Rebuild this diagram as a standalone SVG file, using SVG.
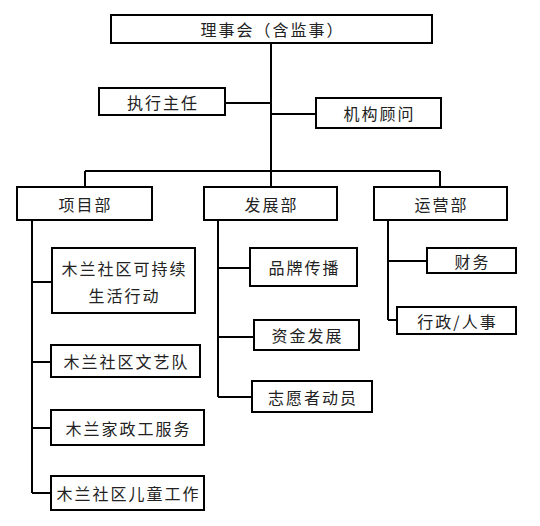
<svg xmlns="http://www.w3.org/2000/svg" width="540" height="526" viewBox="0 0 540 526">
<style>
.box{fill:#fff;stroke:#000;stroke-width:2}
.t{font-family:"Noto Sans CJK SC","Liberation Sans",sans-serif;font-size:16px;fill:#222;text-anchor:middle;letter-spacing:2px;dominant-baseline:central}
.c{fill:none;stroke:#000;stroke-width:2}
</style>
<rect width="540" height="526" fill="#fff"/>
<g id="connectors">
<path class="c" d="M271 43V171M225 103H271M271 114H316M85 171H440M85 171V187M271 171V187M440 171V187"/>
<path class="c" d="M32 220V493M32 282H52M32 362H51M32 428H51M32 493H51"/>
<path class="c" d="M218 220V397M218 268H250M218 337H254M218 397H252"/>
<path class="c" d="M388 220V320M388 261H427M388 320H397"/>
</g>
<g id="board"><rect class="box" x="111" y="15" width="321" height="28"/><text class="t" x="272.5" y="29">理事会（含监事）</text></g>
<g id="director"><rect class="box" x="99" y="88" width="126" height="27"/><text class="t" x="163" y="102">执行主任</text></g>
<g id="advisors"><rect class="box" x="316" y="98" width="125" height="30"/><text class="t" x="379.5" y="113">机构顾问</text></g>
<g id="projects"><rect class="box" x="17" y="187" width="135" height="33"/><text class="t" x="85.5" y="203.5">项目部</text></g>
<g id="development"><rect class="box" x="204" y="187" width="133" height="33"/><text class="t" x="271.5" y="203.5">发展部</text></g>
<g id="operations"><rect class="box" x="374" y="187" width="133" height="33"/><text class="t" x="441.5" y="203.5">运营部</text></g>
<g id="sustainable"><rect class="box" x="52" y="248" width="143" height="65"/><text class="t" x="124.5" y="268">木兰社区可持续</text><text class="t" x="124.5" y="295">生活行动</text></g>
<g id="arts"><rect class="box" x="51" y="345" width="149" height="32"/><text class="t" x="126.5" y="361">木兰社区文艺队</text></g>
<g id="domestic"><rect class="box" x="51" y="410" width="153" height="35"/><text class="t" x="128.5" y="427.5">木兰家政工服务</text></g>
<g id="children"><rect class="box" x="51" y="476" width="153" height="34"/><text class="t" x="128.5" y="493">木兰社区儿童工作</text></g>
<g id="brand"><rect class="box" x="250" y="248" width="107" height="38"/><text class="t" x="304.5" y="267">品牌传播</text></g>
<g id="funding"><rect class="box" x="254" y="320" width="105" height="30"/><text class="t" x="307.5" y="335">资金发展</text></g>
<g id="volunteers"><rect class="box" x="252" y="381" width="120" height="31"/><text class="t" x="313" y="396.5">志愿者动员</text></g>
<g id="finance"><rect class="box" x="427" y="248" width="89" height="25"/><text class="t" x="472.5" y="260.5">财务</text></g>
<g id="admin"><rect class="box" x="397" y="307" width="119" height="27"/><text class="t" x="457.5" y="320.5">行政/人事</text></g>
</svg>
